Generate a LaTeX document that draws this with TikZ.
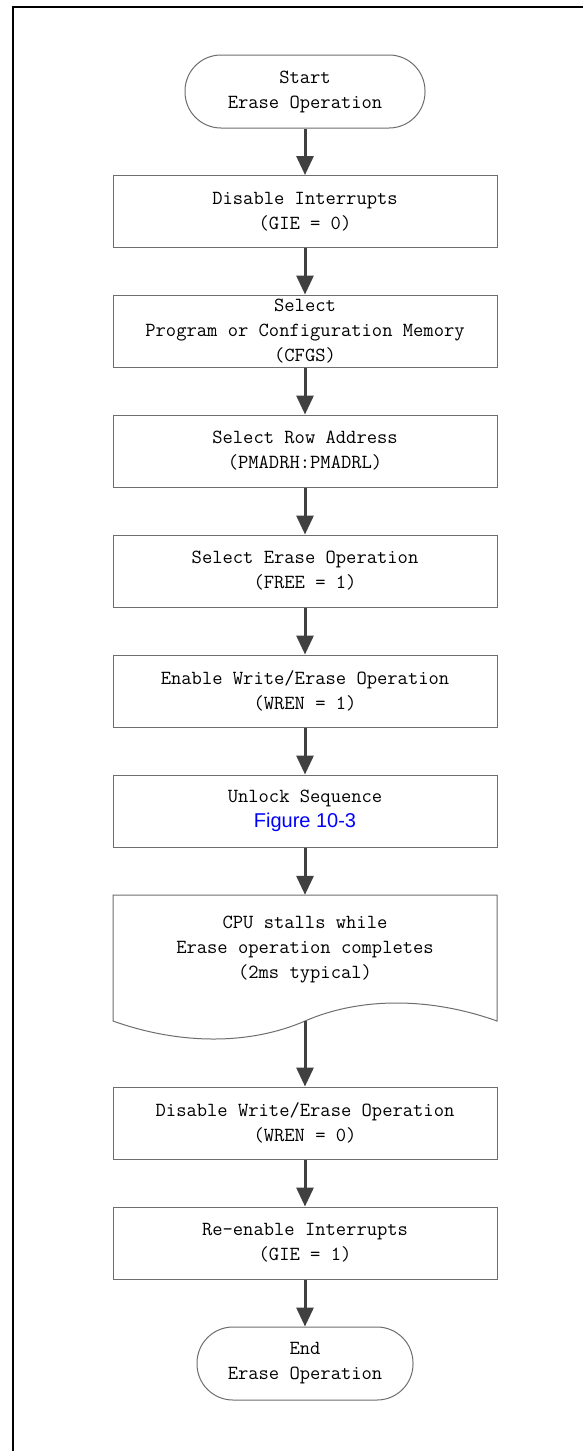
\documentclass[tikz,border=0pt]{standalone}
\usepackage{fontspec}
\newfontfamily\linkfont{Liberation Sans}
\usetikzlibrary{arrows.meta}
\definecolor{boxline}{RGB}{110,110,110}
\definecolor{arrowgray}{RGB}{64,64,64}
\definecolor{linkblue}{RGB}{0,0,255}
\begin{document}
\begin{tikzpicture}[x=1pt,y=-1pt,
  every node/.style={font=\ttfamily\fontsize{20}{25}\selectfont, align=center, inner sep=0pt},
  stepbox/.style={draw=boxline, line width=1pt, minimum width=384pt, minimum height=72pt},
  termbox/.style={draw=boxline, line width=1pt, rounded corners=36pt, minimum height=73pt},
  flowarrow/.style={draw=arrowgray, line width=3pt, -{Triangle[length=19pt,width=17pt]}}
]
\useasboundingbox (0,0) rectangle (583,1451);
\fill[white] (0,0) rectangle (583,1451);
\draw[line width=2.5pt, black] (583,7) -- (13,7) -- (13,1451);

\node[termbox, minimum width=240pt] (start) at (305,91.5) {Start\\Erase Operation};
\node[stepbox] (b1) at (305,211.5) {Disable Interrupts\\(GIE = 0)};
\node[stepbox] (b2) at (305,331) {Select\\Program or Configuration Memory\\(CFGS)};
\node[stepbox] (b3) at (305,451) {Select Row Address\\(PMADRH:PMADRL)};
\node[stepbox] (b4) at (305,571) {Select Erase Operation\\(FREE = 1)};
\node[stepbox] (b5) at (305,691) {Enable Write/Erase Operation\\(WREN = 1)};
\node[stepbox] (b6) at (305,811) {Unlock Sequence\\{\linkfont\fontsize{20}{25}\selectfont\color{linkblue}Figure 10-3}};
\node[minimum width=384pt, minimum height=126pt] (doc) at (305,958) {};
\draw[boxline, line width=1pt] (113,1021) -- (113,895) -- (497,895) -- (497,1021)
  .. controls (430,997) and (360,997) .. (305,1021)
  .. controls (250,1045) and (180,1045) .. cycle;
\node (doctext) at (305,950) {CPU stalls while\\Erase operation completes\\(2ms typical)};
\node[stepbox] (b7) at (305,1123) {Disable Write/Erase Operation\\(WREN = 0)};
\node[stepbox] (b8) at (305,1243) {Re-enable Interrupts\\(GIE = 1)};
\node[termbox, minimum width=216pt] (endop) at (305,1363.5) {End\\Erase Operation};

\draw[flowarrow] (start) -- (b1);
\draw[flowarrow] (b1) -- (b2);
\draw[flowarrow] (b2) -- (b3);
\draw[flowarrow] (b3) -- (b4);
\draw[flowarrow] (b4) -- (b5);
\draw[flowarrow] (b5) -- (b6);
\draw[flowarrow] (b6) -- (doc.north);
\draw[flowarrow] (doc.south) -- (b7);
\draw[flowarrow] (b7) -- (b8);
\draw[flowarrow] (b8) -- (endop);
\end{tikzpicture}
\end{document}
